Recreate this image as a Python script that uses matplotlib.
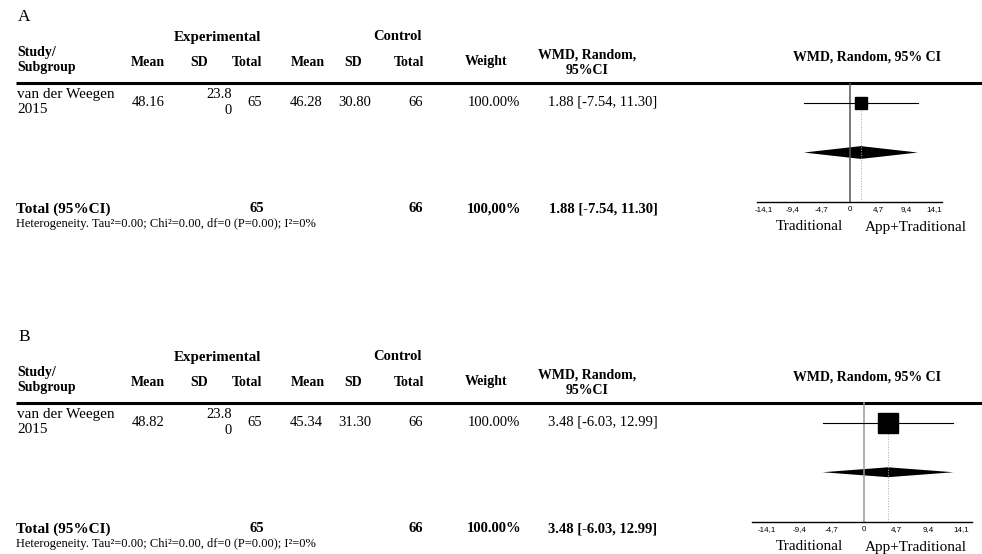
import matplotlib
matplotlib.use("Agg")
import matplotlib.pyplot as plt
from matplotlib.patches import Polygon

# two sub-analyses, one study each
panel_names = ["A", "B"]
study = "van der Weegen\n2015"
exp_mean = [48.16, 48.82]
exp_sd = [23.80, 23.80]
exp_n = [65, 65]
ctrl_mean = [46.28, 45.34]
ctrl_sd = [30.80, 31.30]
ctrl_n = [66, 66]
weight = [100.00, 100.00]
total_weight_txt = ["100,00%", "100.00%"]
wmd = [1.88, 3.48]
ci_lo = [-7.54, -6.03]
ci_hi = [11.30, 12.99]
het_txt = "Heterogeneity. Tau\u00b2=0.00; Chi\u00b2=0.00, df=0 (P=0.00); I\u00b2=0%"
ticks = [-14.1, -9.4, -4.7, 0, 4.7, 9.4, 14.1]
tick_txt = ["-14,1", "-9,4", "-4,7", "0", "4,7", "9,4", "14,1"]

W, H = 982, 554
fig = plt.figure(figsize=(W / 100, H / 100), dpi=100)
bg = fig.add_axes([0, 0, 1, 1])
bg.set_xlim(0, W)
bg.set_ylim(H, 0)
bg.axis("off")

serif = "Liberation Serif"
fs = 10.5
hfs = 10

def txt(x, y, s, bold=False, ha="left", size=fs, **kw):
    bg.text(x, y, s, ha=ha, va="center", family=serif, size=size,
            weight="bold" if bold else "normal", **kw)

# forest plot axes (pixels: left, right, top, bottom) and x ranges
plot_box = [(757, 942, 82.7, 201.7), (752, 972, 402, 521.7)]
plot_xlim = [(-15.3, 15.3), (-16.3, 15.7)]
zero_col = ["#555555", "#9a9a9a"]
sq_size = [8, 15]
dia_h = [0.13, 0.1]

for i, name in enumerate(panel_names):
    dy = 320 * i
    txt(18, 17 + dy, name, size=12.5)
    txt(217, 37 + dy, "Experimental", bold=True, ha="center", size=10.8)
    txt(398, 37 + dy, "Control", bold=True, ha="center", size=10.5)
    txt(17, 60 + dy, "Study/\nSubgroup", bold=True, size=hfs, linespacing=1.2)
    for x, s in [(148, "Mean"), (199, "SD"), (247, "Total"), (308, "Mean"),
                 (353, "SD"), (409, "Total"), (486, "Weight")]:
        txt(x, 62 + dy, s, bold=True, ha="center", size=hfs)
    txt(587, 63 + dy, "WMD, Random,\n95%CI", bold=True, ha="center", size=hfs,
        linespacing=1.2)
    txt(867, 57 + dy, "WMD, Random, 95% CI", bold=True, ha="center", size=hfs)
    bg.plot([16, W], [82.5 + dy, 82.5 + dy], color="black", lw=2.2,
            solid_capstyle="butt")

    # study row
    ry = 102 + dy
    sd_s = f"{exp_sd[i]:.2f}"
    txt(17, ry, study, size=11, linespacing=1.25)
    txt(148, ry, f"{exp_mean[i]:.2f}", ha="center")
    txt(232, ry, sd_s[:-1] + "\n" + sd_s[-1], ha="right", multialignment="right",
        linespacing=1.3)
    txt(262, ry, f"{exp_n[i]}", ha="right")
    txt(306, ry, f"{ctrl_mean[i]:.2f}", ha="center")
    txt(355, ry, f"{ctrl_sd[i]:.2f}", ha="center")
    txt(423, ry, f"{ctrl_n[i]}", ha="right")
    txt(494, ry, f"{weight[i]:.2f}%", ha="center")
    ci_s = f"{wmd[i]:.2f} [{ci_lo[i]:.2f}, {ci_hi[i]:.2f}]"
    txt(603, ry, ci_s, ha="center")

    # pooled row
    ty = 209 + dy
    txt(16, ty, "Total (95%CI)", bold=True, size=11)
    txt(257, ty, f"{exp_n[i]}", bold=True, ha="center")
    txt(416, ty, f"{ctrl_n[i]}", bold=True, ha="center")
    txt(494, ty, total_weight_txt[i], bold=True, ha="center")
    txt(603, ty, ci_s, bold=True, ha="center")
    txt(16, ty + 15, het_txt, size=9)

    # forest plot
    l, r, t, b = plot_box[i]
    ax = fig.add_axes([l / W, (H - b) / H, (r - l) / W, (b - t) / H])
    ax.set_xlim(*plot_xlim[i])
    ax.set_ylim(0, 2.42)
    for s in ["top", "left", "right"]:
        ax.spines[s].set_visible(False)
    ax.spines["bottom"].set_linewidth(1.0)
    ax.set_yticks([])
    ax.set_xticks(ticks)
    ax.set_xticklabels(tick_txt, family="Liberation Sans", size=5.8)
    ax.tick_params(axis="x", length=0, pad=3)
    ax.patch.set_alpha(0)
    ax.axvline(0, color=zero_col[i], lw=1.1)
    ax.vlines(wmd[i], 0, 2, color="#aaaaaa", lw=0.7, linestyles=":")
    ax.plot([ci_lo[i], ci_hi[i]], [2, 2], color="black", lw=0.8)
    ax.plot(wmd[i], 2, marker="s", ms=sq_size[i], color="black", mec="black")
    h = dia_h[i]
    ax.add_patch(Polygon([(ci_lo[i], 1), (wmd[i], 1 + h), (ci_hi[i], 1),
                          (wmd[i], 1 - h)], closed=True, color="black", lw=0))
    txt(809, 227 + dy, "Traditional", ha="center", size=11)
    txt(916, 227 + dy, "App+Traditional", ha="center", size=11)

fig.savefig("out.png", dpi=100)
